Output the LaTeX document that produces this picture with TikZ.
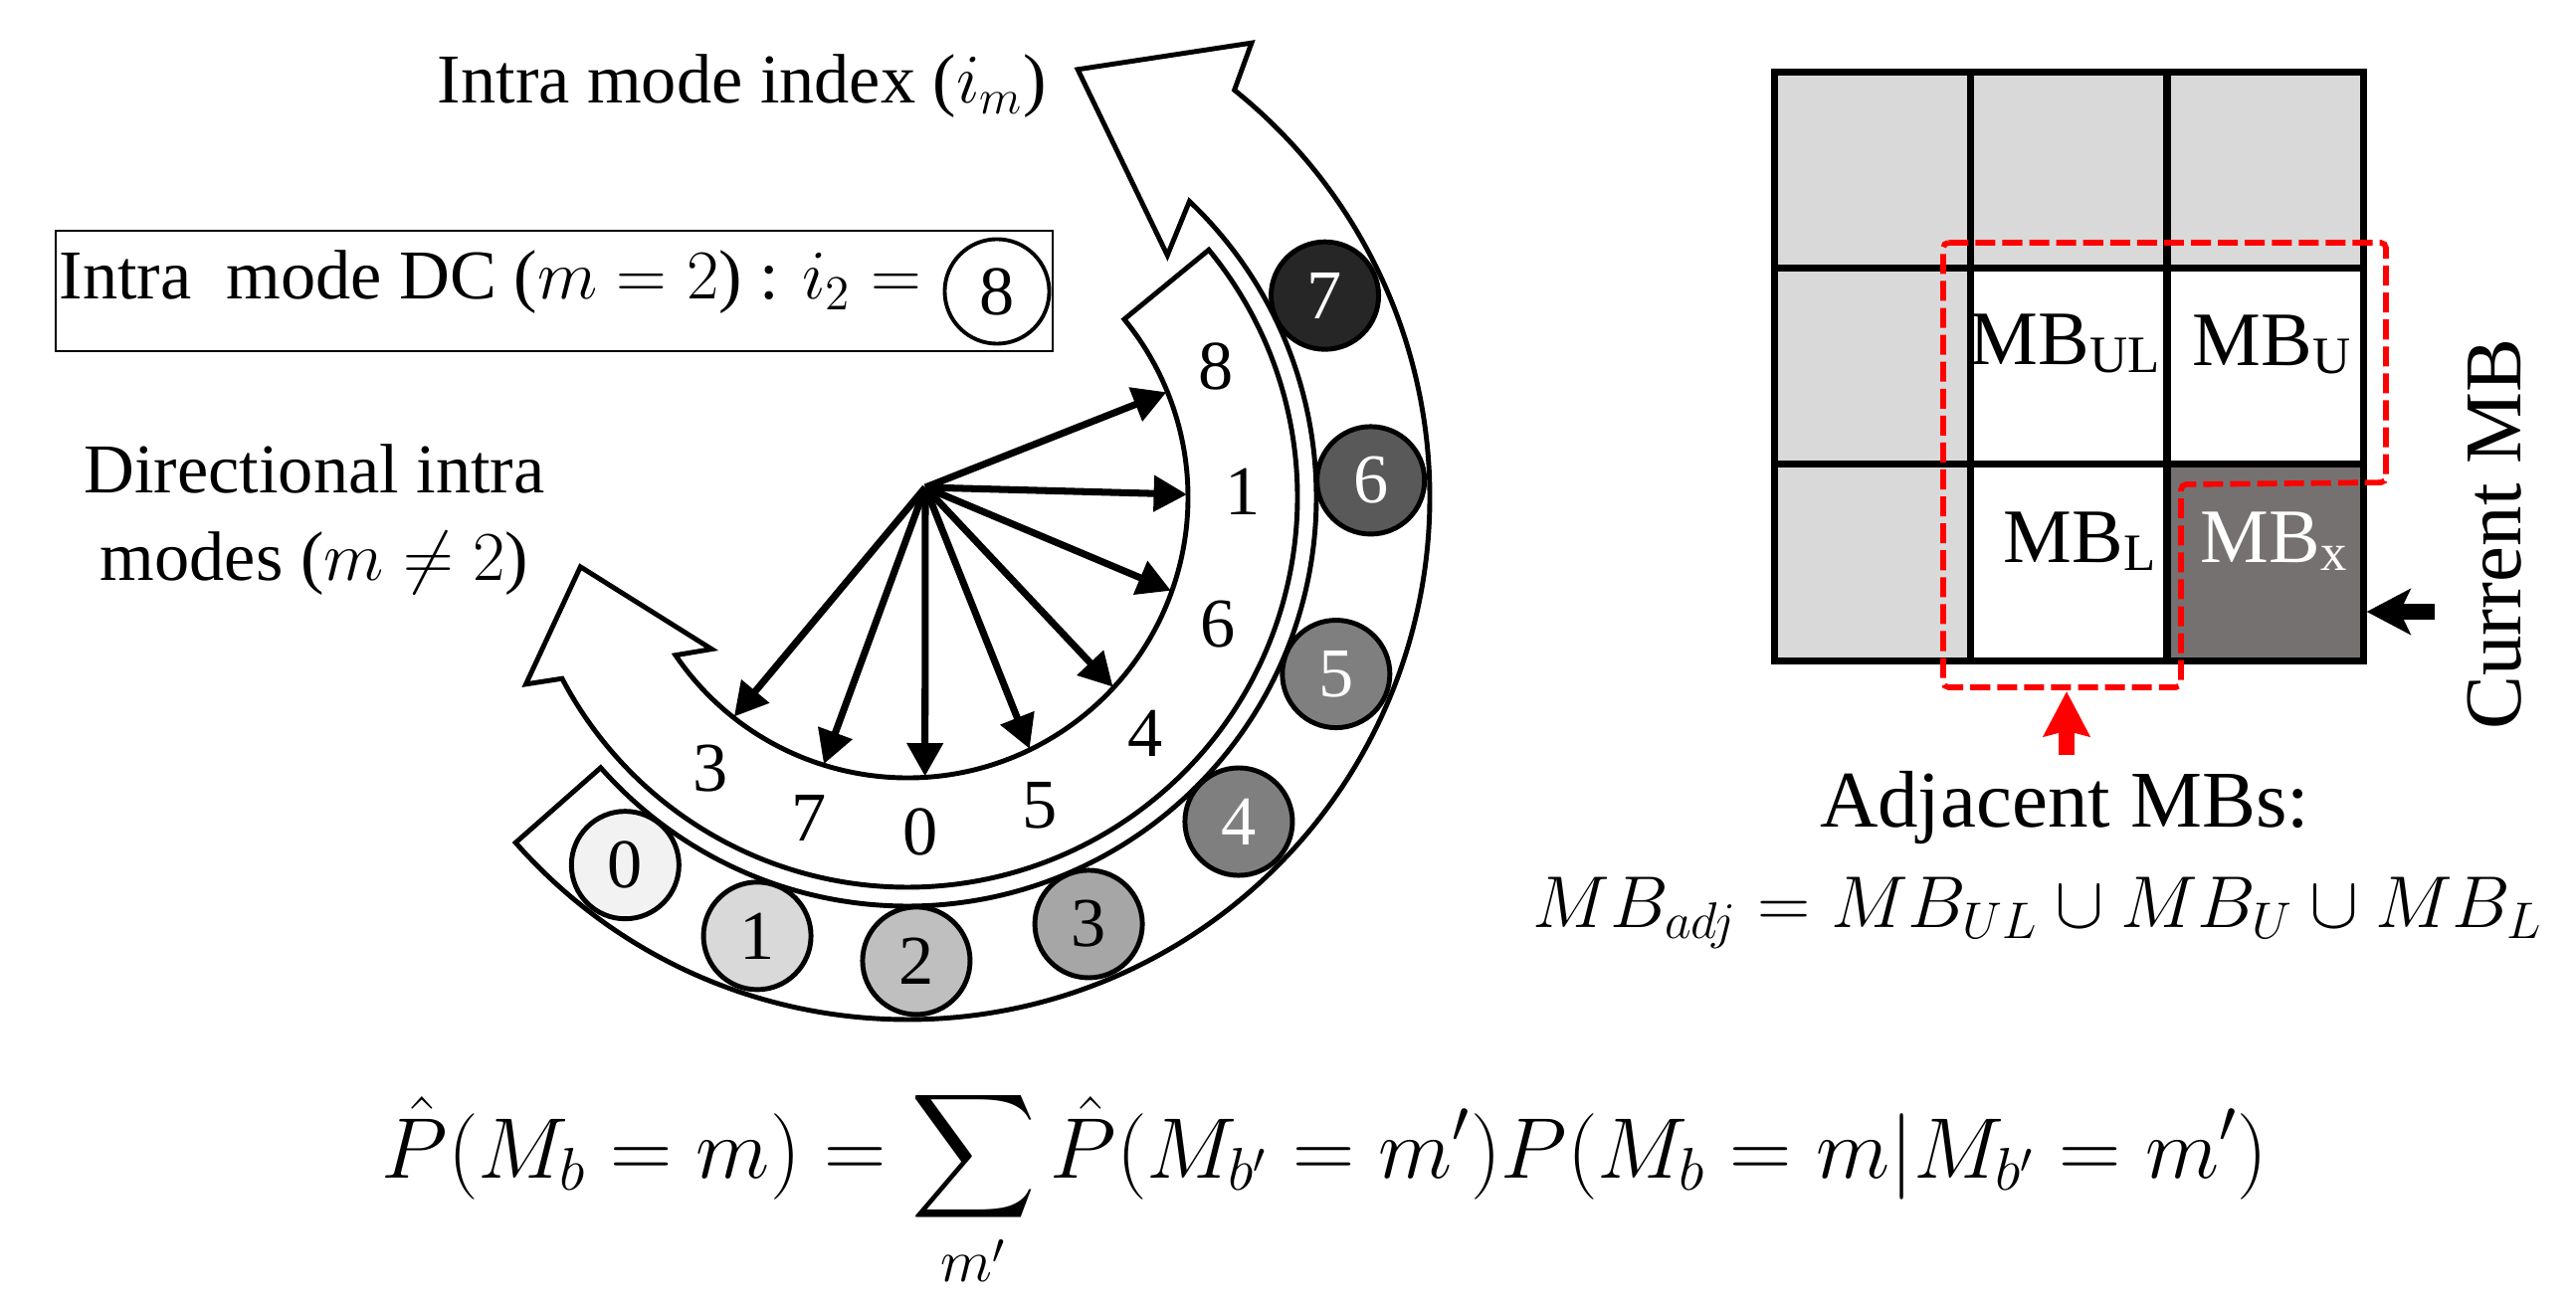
\documentclass[tikz,border=0pt]{standalone}
\usepackage{fix-cm}
\usepackage{amsmath}
\usepackage{fontspec}
\setmainfont{Liberation Serif}
\usetikzlibrary{arrows.meta}
\definecolor{GridGray}{RGB}{217,217,217}
\definecolor{CurDark}{RGB}{118,113,113}
\definecolor{Mode0}{RGB}{242,242,242}
\definecolor{Mode1}{RGB}{217,217,217}
\definecolor{Mode2}{RGB}{191,191,191}
\definecolor{Mode3}{RGB}{166,166,166}
\definecolor{Mode4}{RGB}{127,127,127}
\definecolor{Mode6}{RGB}{89,89,89}
\definecolor{Mode7}{RGB}{38,38,38}
\newcommand{\mbname}[1]{MB\raisebox{-0.08cm}{\fontsize{15}{18}\selectfont #1}}

\begin{document}
\begin{tikzpicture}[x=0.01cm, y=0.01cm,
          band/.style={draw, line width=1.4pt, fill=white},
          disc/.style={circle, draw, line width=1.4pt, minimum size=1.08cm,
                       inner sep=0pt, font=\fontsize{20}{24}\selectfont},
          lbl/.style={font=\fontsize{20}{24}\selectfont, inner sep=0pt},
          txt/.style={font=\fontsize{20}{25}\selectfont, inner sep=0pt},
          ray/.style={line width=2pt, -{Triangle[length=9.5pt, width=10pt]}},
          cell/.style={draw, line width=2pt, minimum size=1.97cm, inner sep=0pt},
          mb/.style={font=\fontsize{22}{26}\selectfont, inner sep=0pt, anchor=base},
          bigarr/.style={line width=4.5pt}
        ]
        \useasboundingbox (0,0) rectangle (2589,1315);

        % Mode bands
        \begin{scope}[shift={(912,815)}]
          % outer band: mode index
          \draw[band] (-138.6:411) -- (-138.6:525)
                arc[start angle=-138.6, end angle=51.25, radius=525]
                -- (52.87:573) -- (68.3:463) -- (42.96:357) -- (46.4:411)
                arc[start angle=46.4, end angle=-138.6, radius=411] -- cycle;
          % inner band: directional modes
          \draw[band] (39.4:282) -- (39.4:392)
                arc[start angle=39.4, end angle=-152.3, radius=392]
                -- (-153.9:427) -- (-168:336) -- (-142.2:249) -- (-145.75:282)
                arc[start angle=-145.75, end angle=39.4, radius=282] -- cycle;

          % index circles
          \foreach \n/\a/\f/\t in {0/-127.5/Mode0/black, 1/-108.9/Mode1/black,
                                   2/-88.9/Mode2/black, 3/-67/Mode3/black,
                                   4/-44.4/Mode4/white, 5/-22.4/Mode4/white,
                                   6/2.1/Mode6/white, 7/25.8/Mode7/white}
            \node[disc, fill=\f, text=\t] (m\n) at (\a:466) {\n};

          % mode numbers
          \foreach \n/\a in {8/22.9, 1/0.9, 6/-22.2, 4/-44.8, 5/-66.8,
                             0/-87.8, 7/-107, 3/-125.9}
            \node[lbl] (d\n) at (\a:337) {\n};

          % prediction directions
          \coordinate (o) at (18,10);
          \foreach \n/\a in {8/22.1, 1/0.6, 6/-19.5, 4/-42.7, 5/-64.1,
                             0/-86.4, 7/-107.4, 3/-128.3} {
            \coordinate (t\n) at (\a:281);
            \draw[ray] (o) -- (t\n);
          }
        \end{scope}

        % Texts on the left
        \node[txt, anchor=base] (idx) at (746,1211) {Intra mode index ($i_m$)};
        \node[draw, line width=0.6pt, minimum width=10.02cm,
              minimum height=1.21cm, inner sep=0pt] (dcbox) at (557,1022.5) {};
        \node[txt, anchor=base west] (dc) at (59,1014)
              {Intra\ \ mode DC ($m=2$) : $i_2 =$};
        \node[lbl, circle, draw, line width=1.1pt, minimum size=1.05cm]
              (dc8) at (1002,1022) {8};
        \node[txt, align=center] (dir) at (316,792)
              {Directional intra\\modes ($m \neq 2$)};

        % Macroblock grid
        \foreach \i/\j/\f in {1/1/GridGray, 1/2/GridGray, 1/3/GridGray,
                              2/1/GridGray, 2/2/white, 2/3/white,
                              3/1/GridGray, 3/2/white, 3/3/CurDark}
          \node[cell, fill=\f] (c\i\j) at ({1882.5+197*(\j-1)}, {1143.5-197*(\i-1)}) {};

        \node[mb] (mbul) at (2075,948) {\mbname{UL}};
        \node[mb] (mbu) at (2283,947) {\mbname{U}};
        \node[mb] (mbl) at (2090,749) {\mbname{L}};
        \node[mb, text=white] (mbx) at (2285,749) {\mbname{x}};

        % Adjacent region
        \draw[red, line width=1.6pt, dash pattern=on 5.7pt off 2pt,
              rounded corners=1.5pt]
              (1953,1071) -- (2398,1071) -- (2398,830) -- (2192,828)
              -- (2192,624) -- (1953,624) -- cycle;
        \coordinate (adjfoot) at (2077,556);
        \coordinate (adjtop) at (2077,620);
        \draw[bigarr, red, -{Stealth[length=12.8pt, width=13pt, inset=1.5pt]}]
              (adjfoot) -- (adjtop);

        % Current MB pointer
        \coordinate (curtail) at (2447,700);
        \draw[bigarr, -{Stealth[length=12.5pt, width=13pt, inset=3pt]}]
              (curtail) -- (c33.east |- curtail);
        \node[font=\fontsize{23}{28}\selectfont, rotate=90, inner sep=0pt]
              (cur) at (2507,778) {Current MB};

        \node[font=\fontsize{23}{28}\selectfont, anchor=base, inner sep=0pt]
              (adj) at (2075,483) {Adjacent MBs:};
        \node[font=\fontsize{21}{25}\selectfont, anchor=base west, inner sep=0pt]
              (adjeq) at (1540,383) {$MB_{adj} = MB_{UL}\cup MB_U\cup MB_L$};

        % Probability
        \node[font=\fontsize{24.6}{30}\selectfont, anchor=base west, inner sep=0pt]
              (prob) at (383,131)
              {$\displaystyle \hat{P}(M_b=m)=\sum_{m'}\hat{P}(M_{b'}=m')P(M_b=m|M_{b'}=m')$};
      \end{tikzpicture}
\end{document}
